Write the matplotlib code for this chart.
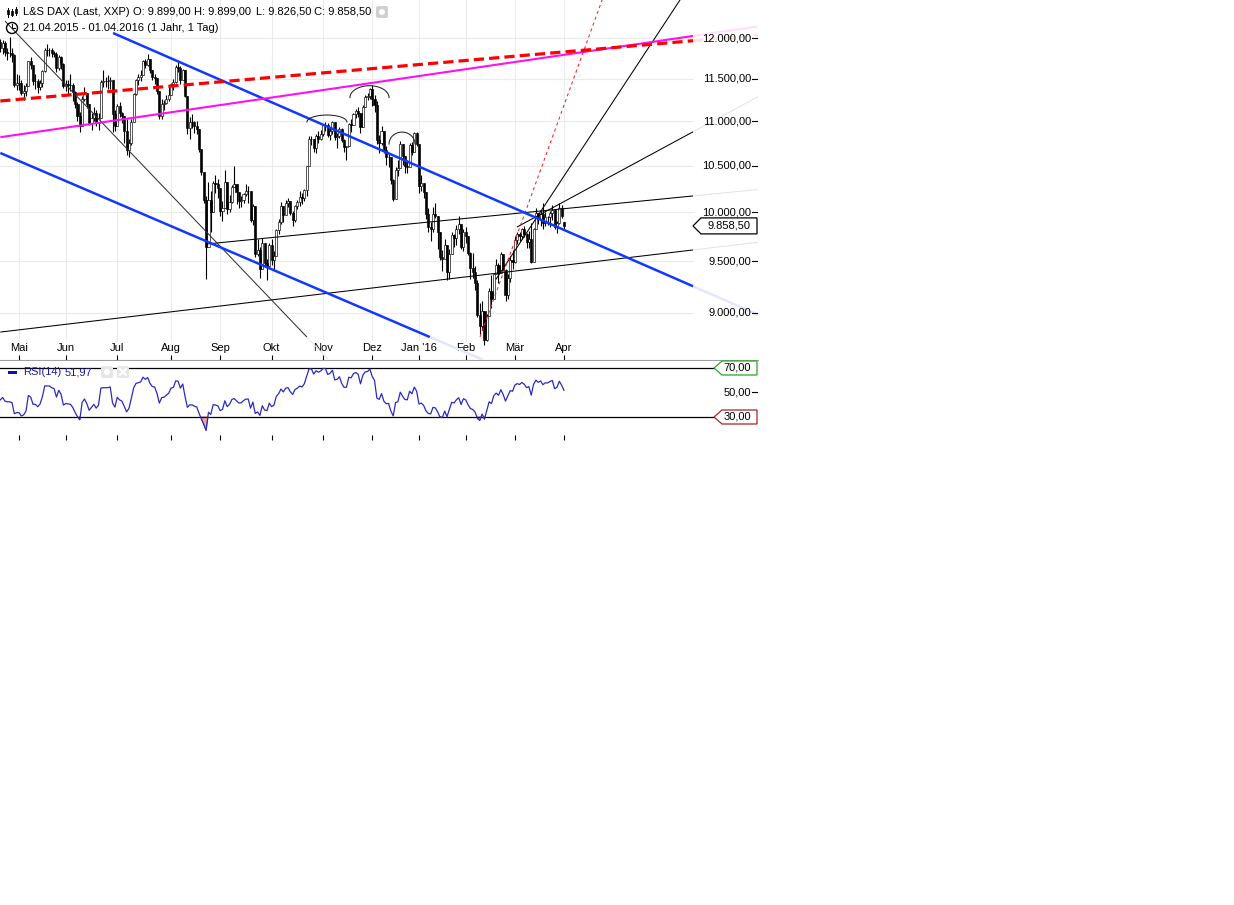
import numpy as np
import pandas as pd
import matplotlib
matplotlib.use("Agg")
import matplotlib.pyplot as plt
import matplotlib.transforms as mtransforms
from matplotlib.patches import Polygon, Circle, FancyBboxPatch, Rectangle
from matplotlib.ticker import NullLocator

plt.rcParams['font.family'] = ['Liberation Sans', 'DejaVu Sans']

W, H = 1234, 905

# trading days (L&S, german holidays left out)
holidays = ["2015-05-01", "2015-12-24", "2015-12-25", "2015-12-31",
            "2016-01-01", "2016-03-25", "2016-03-28"]
dates = pd.bdate_range("2015-04-21", "2016-04-01", freq="C", holidays=holidays)

first_open = 11950
last_open = 9899.0

closes = [
    11880, 11940, 11830, 11810, 11810, 11790, 11430, 11450,  # Apr
    11450, 11330, 11350, 11410, 11710, 11670, 11470, 11470, 11400, 11450,
    11590, 11850, 11850, 11850, 11815, 11800, 11630, 11770, 11680, 11410,  # Mai
    11440, 11430, 11420, 11340, 11200, 11060, 10950, 11260, 11330, 11200, 10980,
    11040, 11100, 10980, 11040, 11460, 11470, 11470, 11470, 11490, 11080, 10945,  # Jun
    11180, 11100, 11060, 10890, 10675, 10750, 10990, 11315, 11485, 11515, 11540, 11720,
    11670, 11735, 11600, 11520, 11510, 11350, 11060, 11200, 11210, 11260, 11310,  # Jul
    11440, 11455, 11640, 11635, 11490, 11600, 11290, 10925, 10985, 10985, 10940,
    10915, 10680, 10430, 10125, 9648, 10128, 9998, 10316, 10298, 10259,  # Aug
    10016, 10048, 10318, 10038, 10108, 10271, 10303, 10210, 10124, 10131, 10189,
    10227, 10229, 9916, 10066, 9571, 9612, 9428, 9688, 9484, 9450, 9660,  # Sep
    9509, 9553, 9814, 9902, 10064, 9970, 10096, 10119, 9994, 9915, 10065,
    10104, 10165, 10147, 10238, 10491, 10795, 10801, 10692, 10831, 10801, 10850,  # Okt
    10951, 10951, 10846, 10887, 10988, 10815, 10833, 10907, 10782, 10708, 10713,
    10971, 10960, 11085, 11119, 11092, 10934, 11170, 11285, 11293, 11382,  # Nov
    11261, 11190, 10789, 10752, 10887, 10673, 10592, 10598, 10340, 10139,
    10450, 10470, 10738, 10608, 10497, 10489, 10727, 10653, 10860, 10743,  # Dez
    10283, 10310, 10214, 9979, 9849, 9825, 9985, 9960, 9794, 9545,
    9521, 9664, 9392, 9574, 9765, 9736, 9823, 9880, 9640, 9798,  # Jan
    9757, 9581, 9434, 9393, 9286, 8979, 8879, 9017, 8752, 8967, 9206,
    9135, 9377, 9463, 9388, 9574, 9416, 9167, 9331, 9513, 9495,  # Feb
    9717, 9776, 9751, 9824, 9778, 9692, 9723, 9498, 9831, 9990, 9933,
    9983, 9892, 9950, 9948, 9990, 10022, 9851, 9887, 10046, 9966,  # Mär
    9858.5,  # Apr
]

highs = [
    11990, 11980, 11960, 11870, 12010, 11880, 11800, 11560,
    11540, 11480, 11420, 11450, 11720, 11760, 11640, 11560, 11500, 11490,
    11600, 11870, 11920, 11880, 11870, 11840, 11820, 11790, 11780, 11690,
    11480, 11490, 11560, 11450, 11350, 11220, 11110, 11290, 11400, 11320, 11150,
    11100, 11170, 11130, 11100, 11490, 11600, 11520, 11540, 11520, 11200, 11130,
    11200, 11220, 11110, 10950, 11020, 10800, 11020, 11330, 11500, 11560, 11600, 11730,
    11740, 11800, 11720, 11580, 11560, 11480, 11300, 11260, 11250, 11300, 11400,
    11450, 11500, 11670, 11700, 11650, 11620, 11580, 11250, 11050, 11080, 11000,
    11000, 10900, 10650, 10420, 10170, 10320, 10230, 10330, 10400, 10350,
    10220, 10120, 10450, 10250, 10180, 10290, 10500, 10250, 10190, 10170, 10200,
    10300, 10280, 10150, 10090, 10050, 9720, 9640, 9730, 9600, 9520, 9680,
    9720, 9600, 9830, 9930, 10110, 10060, 10130, 10150, 10120, 10010, 10080,
    10130, 10220, 10200, 10250, 10500, 10830, 10830, 10800, 10850, 10890, 10900,
    10970, 10990, 10980, 10920, 11000, 10990, 10860, 10930, 10920, 10800, 10720,
    10980, 11030, 11100, 11140, 11160, 11030, 11190, 11300, 11330, 11390,
    11430, 11300, 11230, 10840, 10950, 10850, 10720, 10640, 10500, 10350,
    10480, 10560, 10770, 10700, 10600, 10560, 10750, 10760, 10880, 10880,
    10490, 10400, 10300, 10180, 10050, 9900, 10060, 10100, 9890, 9750,
    9610, 9720, 9600, 9620, 9800, 9780, 9870, 9960, 9850, 9830,
    9850, 9730, 9590, 9580, 9450, 9320, 9090, 9110, 8980, 8990, 9240,
    9360, 9380, 9520, 9480, 9590, 9570, 9420, 9370, 9550, 9610,
    9760, 9800, 9800, 9840, 9860, 9790, 9810, 9890, 9840, 10040, 9990,
    10020, 10100, 10000, 9960, 10010, 10080, 10030, 9910, 10100, 10080,
    9899.0,
]

lows = [
    11830, 11800, 11780, 11730, 11760, 11700, 11400, 11360,
    11370, 11300, 11250, 11290, 11420, 11620, 11420, 11380, 11330, 11360,
    11400, 11580, 11780, 11780, 11760, 11760, 11580, 11600, 11620, 11390,
    11350, 11300, 11350, 11230, 11150, 11000, 10880, 10970, 11230, 11150, 10960,
    10900, 11000, 10950, 10900, 11200, 11400, 11400, 11380, 11380, 10880, 10890,
    10950, 11050, 10980, 10750, 10620, 10600, 10730, 11000, 11300, 11420, 11470, 11550,
    11630, 11650, 11570, 11480, 11440, 11320, 11030, 11030, 11130, 11200, 11230,
    11300, 11370, 11450, 11580, 11440, 11480, 11280, 10850, 10800, 10920, 10860,
    10850, 10650, 10400, 10100, 9330, 9800, 9800, 10050, 10200, 10150,
    9960, 9910, 10050, 9980, 10000, 10100, 10280, 10090, 10050, 10060, 10100,
    10170, 10100, 9900, 9870, 9540, 9550, 9340, 9450, 9450, 9320, 9480,
    9460, 9420, 9640, 9780, 9880, 9900, 9980, 10060, 9970, 9860, 9900,
    10030, 10070, 10090, 10120, 10170, 10520, 10730, 10650, 10640, 10750, 10780,
    10830, 10890, 10820, 10780, 10850, 10780, 10700, 10810, 10760, 10650, 10560,
    10730, 10880, 10960, 11040, 11050, 10870, 10950, 11180, 11250, 11260,
    11180, 11110, 10740, 10640, 10730, 10640, 10510, 10480, 10300, 10120,
    10200, 10390, 10600, 10510, 10420, 10420, 10500, 10620, 10650, 10720,
    10200, 10220, 10150, 9930, 9800, 9700, 9800, 9940, 9620, 9510,
    9400, 9560, 9320, 9330, 9640, 9640, 9660, 9780, 9620, 9600,
    9680, 9560, 9330, 9340, 9220, 8960, 8800, 8840, 8700, 8740, 9020,
    9050, 9150, 9370, 9290, 9400, 9410, 9110, 9130, 9300, 9420,
    9480, 9670, 9700, 9720, 9740, 9630, 9630, 9480, 9500, 9850, 9880,
    9860, 9830, 9860, 9870, 9850, 9920, 9830, 9790, 9880, 9940,
    9826.5,
]

# closes before 21.04.2015, only used to warm up the RSI
rsi_warmup = [11410, 11280, 11390, 11504, 11551, 11582, 11500, 11806, 11799, 11901,
              12168, 11980, 12020, 11899, 12040, 11896, 11815, 11844, 11683, 11868,
              12086, 11966, 11989, 12001, 12124, 12036, 12166, 12375, 12338, 12228,
              12231, 12038, 11689, 11891]

month_labels = ["Mai", "Jun", "Jul", "Aug", "Sep", "Okt", "Nov", "Dez",
                "Jan '16", "Feb", "Mär", "Apr"]
price_levels = [9000, 9500, 10000, 10500, 11000, 11500, 12000]

# trend lines: (bar0, price0, bar1, price1, draw_from, draw_to, fade_to)
red_dashed = (0, 11235, 296, 11966, 0, 296.2, 324)
magenta_line = (0, 10817, 296, 12025, 0, 296.2, 324)
blue_upper = (48.2, 12063, 296, 9257, 48.2, 296.2, 324)
blue_lower = (0, 10640, 183.7, 8776, 0, 183.7, 206.4)
black_down = (2.0, 12215, 131.1, 8776, 2.0, 131.1, 140.1)
black_chan_up = (88.4, 9674, 296, 10172, 88.4, 296.2, 324)
black_chan_low = (0, 8822, 296, 9613, 0, 296.2, 324)
red_dotted = (205.1, 8776, 257.3, 12487, 205.1, 262, 262)
black_steep = (211.9, 9322, 290.6, 12487, 211.9, 295, 295)
black_fan = (220.9, 9847, 296, 10876, 220.9, 296.2, 324)

# arcs over the tops: (bar_left, bar_right, base price, top price)
arcs = [(131.1, 148.2, 10990, 11071),
        (149.5, 166.2, 11275, 11416),
        (166.2, 177.3, 10740, 10875)]


def de_num(v):
    s = f"{v:,.2f}"
    return s.replace(",", "X").replace(".", ",").replace("X", ".")


closes = np.array(closes, dtype=float)
highs = np.array(highs, dtype=float)
lows = np.array(lows, dtype=float)
n = len(dates)
x = np.arange(n)
opens = np.r_[first_open, closes[:-1]]
opens[-1] = last_open
highs = np.maximum(highs, np.maximum(opens, closes))
lows = np.minimum(lows, np.minimum(opens, closes))

month_pos = [i for i in range(1, n) if dates[i].month != dates[i - 1].month]

# RSI(14), Wilder
s = pd.Series(np.r_[rsi_warmup, closes])
d = s.diff()
up = d.clip(lower=0).ewm(alpha=1 / 14, adjust=False).mean()
dn = (-d).clip(lower=0).ewm(alpha=1 / 14, adjust=False).mean()
rsi = (100 - 100 / (1 + up / dn)).values[-n:]

fig = plt.figure(figsize=(W / 100, H / 100), dpi=100)
ax = fig.add_axes([0, 1 - 360 / H, 758 / W, 360 / H])
ax2 = fig.add_axes([0, 1 - 440 / H, 758 / W, 79 / H])

ax.set_yscale('log')
ax.set_ylim(8568, 12487)
ax.set_xlim(-0.124, 323.95)
ax.yaxis.set_major_locator(NullLocator())
ax.yaxis.set_minor_locator(NullLocator())
for sp in ['top', 'left', 'right']:
    ax.spines[sp].set_visible(False)
ax.spines['bottom'].set_color('#a0a0a0')
ax.set_xticks(month_pos)
ax.set_xticklabels([])
ax.tick_params(axis='x', direction='in', length=3.6, width=0.8, color='black')

xdat = mtransforms.blended_transform_factory(ax.transData, ax.transAxes)
ydat = mtransforms.blended_transform_factory(ax.transAxes, ax.transData)

for p in month_pos:
    ax.axvline(p, ymin=20 / 360, ymax=1, color='#ebebeb', lw=0.8, zorder=0)
for lab, p in zip(month_labels, month_pos):
    ax.text(p, 12 / 360, lab, transform=xdat, ha='center', va='center', fontsize=8)
for lv in price_levels:
    ax.axhline(lv, xmin=0, xmax=693 / 758, color='#ebebeb', lw=0.8, zorder=0)
    ax.text(751 / 758, lv, de_num(lv), transform=ydat, ha='right', va='center',
            fontsize=8, zorder=6)
    ax.plot([752 / 758, 757 / 758], [lv, lv], transform=ydat, color='black', lw=0.8,
            clip_on=False, zorder=6)

# candles
ax.vlines(x, lows, highs, color='black', lw=0.8, zorder=2)
rise = closes >= opens
ax.bar(x[rise], (closes - opens)[rise], bottom=opens[rise], width=0.9,
       color='white', edgecolor='black', linewidth=0.45, zorder=3)
ax.bar(x[~rise], (opens - closes)[~rise], bottom=closes[~rise], width=0.9,
       color='black', edgecolor='black', linewidth=0.45, zorder=3)


def line_price(spec, b):
    b0, p0, b1, p1 = spec[:4]
    return np.exp(np.log(p0) + (b - b0) * (np.log(p1) - np.log(p0)) / (b1 - b0))


def draw_line(spec, color, lw, fade_color=None, **kw):
    b_from, b_to, b_fade = spec[4:]
    ax.plot([b_from, b_to], [line_price(spec, b_from), line_price(spec, b_to)],
            color=color, lw=lw, zorder=4, solid_capstyle='butt', **kw)
    if b_fade > b_to and fade_color:
        ax.plot([b_to, b_fade], [line_price(spec, b_to), line_price(spec, b_fade)],
                color=fade_color, lw=lw, zorder=4, solid_capstyle='butt', **kw)


draw_line(black_chan_low, 'black', 0.75, '#e4e4e4')
draw_line(black_chan_up, 'black', 0.75, '#e4e4e4')
draw_line(black_down, '#333333', 0.75, '#e4e4e4')
draw_line(black_steep, 'black', 0.75)
draw_line(black_fan, 'black', 0.75, '#e4e4e4')
draw_line(red_dotted, '#ff2020', 0.75, dashes=(3, 3))
draw_line(blue_lower, '#1238ff', 1.8, '#e2e6ff')
draw_line(blue_upper, '#1238ff', 1.8, '#e2e6ff')
draw_line(magenta_line, '#ff10ee', 1.5, '#ffe0fb')
draw_line(red_dashed, '#ff0000', 2.3, '#ffe4e4', dashes=(3.2, 1.6))

t = np.linspace(0, np.pi, 40)
for bl, br, pb, pt in arcs:
    bc, hw = (bl + br) / 2, (br - bl) / 2
    ax.plot(bc + hw * np.cos(t), np.exp(np.log(pb) + (np.log(pt) - np.log(pb)) * np.sin(t)),
            color='#222222', lw=0.75, zorder=4)

# RSI panel
ax2.set_xlim(ax.get_xlim())
ax2.set_ylim(11.22, 75.71)
for sp in ax2.spines.values():
    sp.set_visible(False)
ax2.set_yticks([])
ax2.set_xticks(month_pos)
ax2.set_xticklabels([])
ax2.tick_params(axis='x', direction='in', length=3.6, width=0.8, color='black')
ydat2 = mtransforms.blended_transform_factory(ax2.transAxes, ax2.transData)
ax2.axhline(70, xmin=0, xmax=714 / 758, color='black', lw=0.9)
ax2.axhline(30, xmin=0, xmax=714 / 758, color='black', lw=0.9)
ax2.fill_between(x, rsi, 30, where=rsi < 30, interpolate=True, color='#f2a4a4',
                 edgecolor='#a04848', lw=0.6)
ax2.fill_between(x, rsi, 70, where=rsi > 70, interpolate=True, color='#b8e8b8',
                 edgecolor='#48a048', lw=0.6)
ax2.plot(x, rsi, color='#2b2bbf', lw=0.9)
ax2.text(751 / 758, 50, "50,00", transform=ydat2, ha='right', va='center', fontsize=8)
ax2.plot([752 / 758, 757 / 758], [50, 50], transform=ydat2, color='black', lw=0.8,
         clip_on=False)

# overlay in pixel units for header, icons and value boxes
fig.canvas.draw()
ov = fig.add_axes([0, 0, 1, 1])
ov.set_xlim(0, W)
ov.set_ylim(H, 0)
ov.axis('off')
ov.set_zorder(10)


def py(axis, v):
    return H - axis.transData.transform((0, v))[1]


def value_box(yc, txt, tip, edge, half):
    pts = [(tip, yc), (tip + 8, yc - half), (757, yc - half), (757, yc + half),
           (tip + 8, yc + half)]
    ov.add_patch(Polygon(pts, closed=True, facecolor='white', edgecolor=edge, lw=0.9))
    ov.text(751, yc, txt, ha='right', va='center', fontsize=8)


value_box(py(ax, closes[-1]), de_num(closes[-1]), 693, 'black', 8)
value_box(py(ax2, 70), "70,00", 714, '#22aa22', 7)
value_box(py(ax2, 30), "30,00", 714, '#aa2222', 7)

# header
head = [(23, "L&S DAX (Last, XXP)"), (133, "O: " + de_num(last_open)),
        (194, "H: " + de_num(highs[-1])), (256, "L: " + de_num(lows[-1])),
        (314, "C: " + de_num(closes[-1]))]
for hx, txt in head:
    ov.text(hx, 12, txt, ha='left', va='center', fontsize=8)
ov.text(23, 28, dates[0].strftime("%d.%m.%Y") + " - " + dates[-1].strftime("%d.%m.%Y")
        + " (1 Jahr, 1 Tag)", ha='left', va='center', fontsize=8)

# candle icon
for cx, y0, y1 in [(8, 8, 17), (12, 9, 16), (16, 7, 15)]:
    ov.plot([cx, cx], [y0, y1], color='black', lw=0.7)
    ov.add_patch(Rectangle((cx - 1.2, y0 + 2.5), 2.4, 4, facecolor='white',
                           edgecolor='black', lw=0.6))
# clock icon
ov.add_patch(Circle((12, 28), 5.5, fill=False, edgecolor='black', lw=1))
ov.plot([12, 12, 15], [24.5, 28, 28], color='black', lw=0.8)
# gear icons
for gx, gy in [(382, 12), (107, 372)]:
    ov.add_patch(FancyBboxPatch((gx - 6, gy - 6), 12, 12, boxstyle="round,pad=0,rounding_size=2",
                                facecolor='#cfcfcf' if gy < 100 else '#e6e6e6', edgecolor='none'))
    ov.add_patch(Circle((gx, gy), 3, facecolor='white', edgecolor='none'))
ov.add_patch(FancyBboxPatch((117, 366), 12, 12, boxstyle="round,pad=0,rounding_size=2",
                            facecolor='#e6e6e6', edgecolor='none'))
ov.plot([120, 126], [369, 375], color='white', lw=1.5)
ov.plot([120, 126], [375, 369], color='white', lw=1.5)

# RSI legend
ov.add_patch(Rectangle((8, 371), 9, 3, facecolor='#1010a8', edgecolor='none'))
ov.text(23, 372, "RSI(14)", ha='left', va='center', fontsize=8, color='#1a1aa0')
ov.text(65, 372, "51,97", ha='left', va='center', fontsize=8, color='#1a1aa0')

fig.savefig("out.png", dpi=100)
